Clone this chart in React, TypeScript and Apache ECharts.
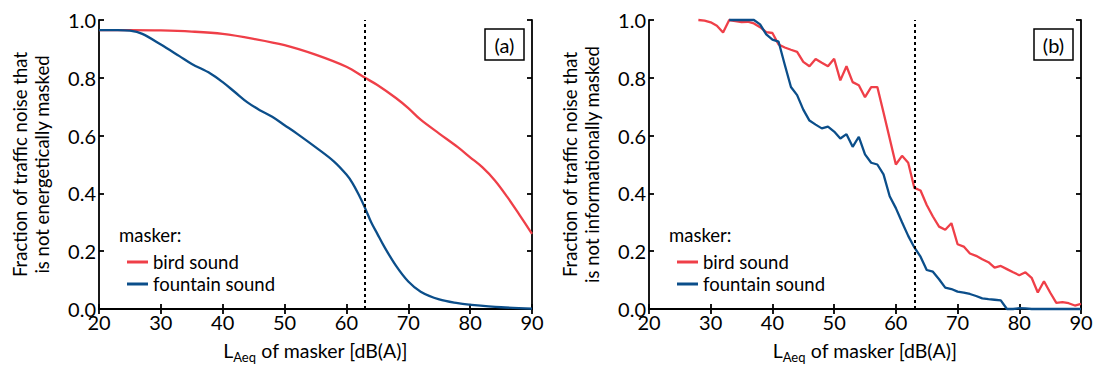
import React, { useEffect, useRef } from "react";
import * as echarts from "echarts";

const FONT = "Lato";
const RED = "#ef3f48";
const BLUE = "#0b4e8a";

const xTicks = [20, 30, 40, 50, 60, 70, 80, 90];
const yTicks = [0, 0.2, 0.4, 0.6, 0.8, 1.0];
const markerLevel = 63;

// panel (a): energetic masking
const aBirdX = [20, 25, 30, 35, 40, 45, 50, 55, 60, 63, 65, 68, 70, 72, 75, 78, 80, 82, 84, 86, 88, 90];
const aBirdY = [0.965, 0.965, 0.964, 0.96, 0.952, 0.935, 0.913, 0.88, 0.838, 0.8, 0.775, 0.73, 0.695, 0.655, 0.607, 0.56, 0.525, 0.49, 0.445, 0.388, 0.325, 0.26];
const aFountainX = [20, 23, 25, 27, 30, 33, 35, 38, 40, 42, 44, 46, 48, 50, 52, 55, 58, 60, 61, 62, 63, 64, 65, 66, 68, 70, 72, 75, 78, 80, 85, 90];
const aFountainY = [0.965, 0.965, 0.963, 0.952, 0.915, 0.875, 0.848, 0.815, 0.785, 0.75, 0.715, 0.688, 0.665, 0.636, 0.607, 0.56, 0.51, 0.465, 0.435, 0.395, 0.35, 0.3, 0.26, 0.22, 0.15, 0.095, 0.06, 0.033, 0.02, 0.015, 0.006, 0.001];

// panel (b): informational masking
const bBirdX = [28, 29, 30, 31, 32, 33, 34, 35, 36, 37, 38, 39, 40, 41, 42, 43, 44, 45, 46, 47, 48, 49, 50, 51, 52, 53, 54, 55, 56, 57, 58, 59, 60, 61, 62, 63, 64, 65, 66, 67, 68, 69, 70, 71, 72, 73, 74, 75, 76, 77, 78, 79, 80, 81, 82, 83, 84, 85, 86, 87, 88, 89, 90];
const bBirdY = [1.0, 0.998, 0.992, 0.98, 0.957, 1.0, 0.996, 0.993, 0.994, 0.988, 0.975, 0.958, 0.955, 0.915, 0.905, 0.897, 0.89, 0.855, 0.84, 0.865, 0.852, 0.84, 0.866, 0.791, 0.84, 0.785, 0.774, 0.733, 0.768, 0.768, 0.68, 0.59, 0.5, 0.53, 0.506, 0.419, 0.41, 0.36, 0.32, 0.285, 0.274, 0.297, 0.224, 0.216, 0.192, 0.184, 0.172, 0.162, 0.143, 0.149, 0.138, 0.127, 0.117, 0.127, 0.108, 0.057, 0.096, 0.057, 0.021, 0.024, 0.02, 0.012, 0.018];
const bFountainX = [33, 34, 35, 36, 37, 38, 39, 40, 41, 42, 43, 44, 45, 46, 47, 48, 49, 50, 51, 52, 53, 54, 55, 56, 57, 58, 59, 60, 61, 62, 63, 64, 65, 66, 67, 68, 69, 70, 71, 72, 73, 74, 75, 76, 77, 78, 79, 80, 81, 82, 83, 84, 85, 86, 87, 88, 89, 90];
const bFountainY = [1.0, 1.0, 1.0, 1.0, 1.0, 0.985, 0.95, 0.932, 0.925, 0.845, 0.768, 0.74, 0.69, 0.652, 0.638, 0.625, 0.631, 0.614, 0.59, 0.605, 0.561, 0.596, 0.535, 0.506, 0.5, 0.466, 0.39, 0.349, 0.3, 0.253, 0.213, 0.181, 0.135, 0.129, 0.103, 0.074, 0.069, 0.06, 0.057, 0.052, 0.045, 0.037, 0.034, 0.032, 0.03, 0.0, 0.0, 0.003, 0.002, 0, 0, 0, 0, 0, 0, 0, 0, 0];

const seriesNames = ["bird sound", "fountain sound"];
const panelLabels = ["(a)", "(b)"];
const yTitles = ["Fraction of traffic noise that\nis not energetically masked", "Fraction of traffic noise that\nis not informationally masked"];

const zip = (xs: number[], ys: number[]) => xs.map((x, i) => [x, ys[i]]);

export default function App() {
  const ref = useRef<HTMLDivElement>(null);
  useEffect(() => {
    if (!ref.current) return;
    const chart = echarts.init(ref.current, undefined, { renderer: "svg" });
    const grids = [
      { left: 99, top: 20, width: 433, height: 289 },
      { left: 649, top: 20, width: 432, height: 289 },
    ];
    const axisLine = { show: true, lineStyle: { color: "#000", width: 1.8 } };
    const axisTick = { show: true, inside: true, length: 5, lineStyle: { color: "#000", width: 1.8 } };
    const xAxes: any[] = [];
    const yAxes: any[] = [];
    grids.forEach((g, i) => {
      xAxes.push({
        type: "value", gridIndex: i, position: "bottom", min: xTicks[0], max: xTicks[xTicks.length - 1], interval: 10,
        axisLine, axisTick, splitLine: { show: false },
        axisLabel: { color: "#000", fontSize: 20, fontFamily: FONT, margin: 3 },
        name: "{l|L}{s|Aeq}{l| of masker [dB(A)]}", nameLocation: "middle", nameGap: 29,
        nameTextStyle: {
          rich: {
            l: { fontSize: 19.5, fontFamily: FONT, color: "#000", lineHeight: 22 },
            s: { fontSize: 13, fontFamily: FONT, color: "#000", padding: [12, 0, 0, 0], verticalAlign: "bottom" },
          },
        },
      });
      xAxes.push({
        type: "value", gridIndex: i, position: "top", min: xTicks[0], max: xTicks[xTicks.length - 1], interval: 10,
        axisLine, axisTick, axisLabel: { show: false }, splitLine: { show: false },
      });
      yAxes.push({
        type: "value", gridIndex: i, position: "left", min: yTicks[0], max: yTicks[yTicks.length - 1], interval: 0.2,
        axisLine, axisTick, splitLine: { show: false },
        axisLabel: { color: "#000", fontSize: 20, fontFamily: FONT, margin: 3, formatter: (v: number) => v.toFixed(1) },
        name: yTitles[i], nameLocation: "middle", nameRotate: 90, nameGap: 46,
        nameTextStyle: { fontSize: 18.5, fontFamily: FONT, color: "#000", lineHeight: 22 },
      });
      yAxes.push({
        type: "value", gridIndex: i, position: "right", min: yTicks[0], max: yTicks[yTicks.length - 1], interval: 0.2,
        axisLine, axisTick, axisLabel: { show: false }, splitLine: { show: false },
      });
    });

    const mk = (name: string, color: string, data: number[][], panel: number, smooth: boolean, withMark: boolean) => ({
      type: "line", name, data, xAxisIndex: panel * 2, yAxisIndex: panel * 2,
      showSymbol: false, symbol: "none", smooth: smooth ? 0.35 : false,
      lineStyle: { color, width: 2.3 }, itemStyle: { color },
      clip: false,
      markLine: withMark
        ? {
            silent: true, symbol: ["none", "none"], label: { show: false },
            lineStyle: { color: "#000", type: [3, 3], width: 2 },
            data: [{ xAxis: markerLevel }],
          }
        : undefined,
    });

    const series = [
      mk(seriesNames[0], RED, zip(aBirdX, aBirdY), 0, true, true),
      mk(seriesNames[1], BLUE, zip(aFountainX, aFountainY), 0, true, false),
      mk(seriesNames[0], RED, zip(bBirdX, bBirdY), 1, false, true),
      mk(seriesNames[1], BLUE, zip(bFountainX, bFountainY), 1, false, false),
    ];

    const legends = grids.map((g) => ({
      data: seriesNames, left: g.left + 23, top: 247, orient: "vertical",
      itemWidth: 21, itemHeight: 3, itemGap: 2, icon: "rect", selectedMode: false,
      textStyle: { fontSize: 18.5, fontFamily: FONT, color: "#000", lineHeight: 20 },
    }));

    const graphic: any[] = [];
    grids.forEach((g, i) => {
      graphic.push({
        type: "text", left: g.left + 20, top: 225,
        style: { text: "masker:", fontSize: 18.5, fontFamily: FONT, fill: "#000" },
      });
      const bx = g.left + g.width - 47;
      graphic.push({
        type: "rect", shape: { x: bx, y: 29, width: 39, height: 31 },
        style: { fill: "#fff", stroke: "#000", lineWidth: 1.5 }, z: 10,
      });
      graphic.push({
        type: "text", x: bx + 19.5, y: 44.5, z: 11,
        style: { text: panelLabels[i], fontSize: 20, fontFamily: FONT, fill: "#000", align: "center", verticalAlign: "middle" },
      });
    });

    chart.setOption({
      animation: false,
      backgroundColor: "#fff",
      textStyle: { fontFamily: FONT },
      grid: grids,
      xAxis: xAxes,
      yAxis: yAxes,
      series,
      legend: legends,
      graphic,
    });
    return () => chart.dispose();
  }, []);
  return <div ref={ref} style={{ position: "fixed", left: 0, top: 0, width: 1101, height: 370 }} />;
}
